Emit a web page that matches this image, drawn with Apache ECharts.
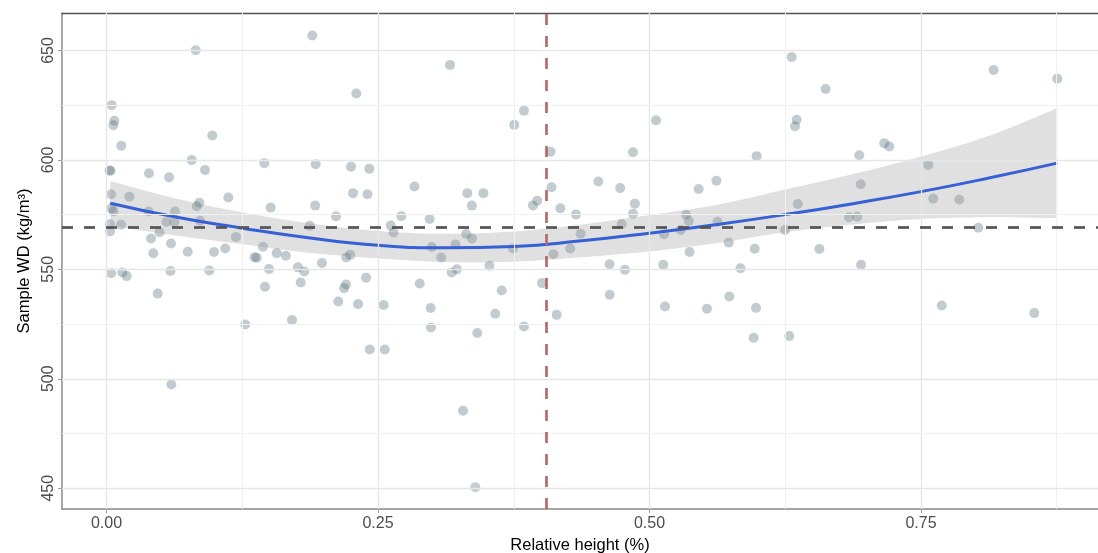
<!DOCTYPE html>
<html><head><meta charset="utf-8">
<script src="https://cdn.jsdelivr.net/npm/echarts@6/dist/echarts.min.js"></script>
<style>html,body{margin:0;padding:0;background:#fff}#c{width:1098px;height:553px}</style>
</head><body><div id="c"></div>
<script>
// ---- data ----
const relHeight = [
0.0028,0.0037,0.0391,0.0576,0.0821,0.0048,0.0072,0.0063,0.0136,0.0974,0.0785,0.0907,0.1453,0.0041,0.0210,0.1122,0.0855,0.0831,0.0046,0.0064,
0.0387,0.0631,0.1512,0.0861,0.0032,0.0134,0.0032,0.0551,0.0624,0.0410,0.0488,0.1192,0.0594,0.0431,0.0748,0.0990,0.1093,0.1441,0.1363,0.1383,
0.1567,0.0043,0.0145,0.0186,0.0589,0.0946,0.1496,0.0471,0.1459,0.1278,0.0597,0.1895,0.3163,0.2300,0.3844,0.3755,0.1926,0.2251,0.2420,0.2836,
0.2270,0.2403,0.1922,0.2113,0.3322,0.3470,0.3364,0.3927,0.3966,0.1872,0.2715,0.2617,0.2643,0.2976,0.3312,0.3365,0.1651,0.2244,0.2207,0.1984,
0.1762,0.1821,0.2995,0.3214,0.3082,0.3526,0.3743,0.3179,0.3227,0.2390,0.2884,0.1788,0.2205,0.2187,0.2134,0.2316,0.2552,0.1708,0.2985,0.2988,
0.3414,0.3580,0.3639,0.4010,0.3844,0.2424,0.2562,0.3283,0.3396,0.6309,0.5060,0.6355,0.6340,0.4089,0.4848,0.5987,0.4098,0.4529,0.4730,0.5453,
0.5616,0.4865,0.4848,0.4179,0.4323,0.4366,0.4744,0.5336,0.5362,0.5626,0.5134,0.5288,0.6248,0.6365,0.4115,0.4270,0.5369,0.5729,0.5969,0.6564,
0.4632,0.4774,0.5126,0.5838,0.4634,0.4145,0.5143,0.5529,0.5735,0.5981,0.5959,0.6287,0.8169,0.8755,0.6622,0.7162,0.7208,0.6932,0.7567,0.6945,
0.7613,0.7853,0.6837,0.6913,0.8028,0.6948,0.7691,0.8543
];
const sampleWD = [
595.2,595.0,593.9,592.1,650.1,625.0,617.9,615.8,606.5,611.1,599.9,595.4,598.5,584.3,583.2,582.8,580.4,578.8,577.9,576.5,
576.4,576.4,578.2,572.2,570.6,570.4,567.3,571.6,571.6,564.1,566.9,564.8,561.8,557.3,558.0,557.9,559.5,560.3,555.5,555.3,
557.4,548.2,548.6,546.9,549.2,549.5,550.1,538.9,542.0,524.8,497.4,656.8,643.4,630.3,622.5,616.0,598.0,596.9,595.9,587.8,
584.8,584.3,579.1,574.2,584.8,584.8,579.1,579.2,581.3,569.9,574.3,570.0,566.8,573.0,566.1,564.1,556.2,556.6,555.4,552.9,
550.9,549.0,560.2,561.3,555.4,551.6,559.5,548.6,550.0,546.2,543.5,544.0,543.1,541.4,535.3,534.1,533.7,526.8,532.3,523.4,
520.9,529.7,540.3,543.7,523.9,513.4,513.4,485.4,450.4,647.0,618.1,618.3,615.4,603.7,603.5,601.7,587.5,590.1,587.1,586.7,
590.5,580.0,575.4,577.9,575.1,566.3,570.7,574.9,572.1,571.7,566.0,568.0,568.0,579.8,556.9,559.5,557.9,562.2,559.4,559.3,
552.3,549.8,552.1,550.5,538.4,529.2,533.0,532.0,537.6,532.4,518.7,519.5,641.1,637.1,632.4,607.6,606.1,602.1,597.7,588.9,
582.3,581.9,573.8,574.0,569.0,552.1,533.5,530.0
];
// smoothed fit with confidence band
const fitX     = [0.0035,0.0625,0.125,0.1875,0.25,0.3125,0.375,0.4375,0.5,0.5625,0.625,0.6875,0.75,0.8125,0.8755];
const fitY     = [580.2,574.0,568.8,564.3,561.0,559.8,560.4,563.0,566.5,570.5,575.0,580.0,585.5,591.7,598.5];
const fitLower = [570.0,565.5,561.5,557.5,555.0,553.3,553.5,555.5,558.2,562.0,567.0,570.5,573.0,573.8,573.4];
const fitUpper = [590.3,582.5,576.0,571.0,567.5,566.2,567.3,570.5,574.8,579.5,586.5,593.5,601.5,611.0,623.6];
const meanWD = 569.3;
const splitHeight = 0.405;
// ticks / grid
const xTicks = [0, 0.25, 0.5, 0.75];
const yTicks = [450, 500, 550, 600, 650];
const xMinor = [0.125, 0.375, 0.625, 0.875];
const yMinor = [475, 525, 575, 625];
const xRange = [-0.041, 0.913];
const yRange = [440.5, 667.1];

const FONT = '"Liberation Sans", Arial, Helvetica, sans-serif';
const chart = echarts.init(document.getElementById('c'), null, {renderer: 'canvas'});

const points = relHeight.map((x, i) => [x, sampleWD[i]]);
const fitPts = fitX.map((x, i) => [x, fitY[i]]);
const bandRows = fitX.map((x, i) => [x, fitLower[i], fitUpper[i]]);

// Catmull-Rom smoothing of pixel points (drawing only)
function smoothPath(pts, steps) {
  const out = [];
  const n = pts.length;
  for (let i = 0; i < n - 1; i++) {
    const p0 = pts[Math.max(i - 1, 0)], p1 = pts[i], p2 = pts[i + 1], p3 = pts[Math.min(i + 2, n - 1)];
    for (let k = 0; k < steps; k++) {
      const t = k / steps, t2 = t * t, t3 = t2 * t;
      const f = j => 0.5 * (2 * p1[j] + (-p0[j] + p2[j]) * t + (2 * p0[j] - 5 * p1[j] + 4 * p2[j] - p3[j]) * t2 + (-p0[j] + 3 * p1[j] - 3 * p2[j] + p3[j]) * t3);
      out.push([f(0), f(1)]);
    }
  }
  out.push(pts[n - 1]);
  return out;
}

const majorStyle = {color: '#e6e6e6', width: 1.3, type: 'solid'};
const minorStyle = {color: '#f1f1f1', width: 1, type: 'solid'};
const gridLines = [].concat(
  xTicks.map(v => ({xAxis: v, lineStyle: majorStyle})),
  xMinor.map(v => ({xAxis: v, lineStyle: minorStyle})),
  yTicks.map(v => ({yAxis: v, lineStyle: majorStyle})),
  yMinor.map(v => ({yAxis: v, lineStyle: minorStyle}))
);

chart.setOption({
  animation: false,
  backgroundColor: '#ffffff',
  grid: {left: 62, right: 0, top: 13, bottom: 44, containLabel: false, outerBoundsMode: 'none'},
  xAxis: [{
    type: 'value', min: xRange[0], max: xRange[1],
    name: 'Relative height (%)', nameLocation: 'middle', nameGap: 27,
    nameTextStyle: {fontFamily: FONT, fontSize: 16.5, color: '#000'},
    axisLine: {show: true, onZero: false, lineStyle: {color: '#888', width: 1.5}},
    axisTick: {show: true, length: 4, lineStyle: {color: '#999'}, customValues: xTicks},
    axisLabel: {customValues: xTicks, formatter: v => Number(v).toFixed(2), fontFamily: FONT, fontSize: 16, color: '#4d4d4d', margin: 7},
    splitLine: {show: false}
  }, {
    type: 'value', position: 'top', min: xRange[0], max: xRange[1],
    axisLine: {show: true, onZero: false, lineStyle: {color: '#555', width: 1.4}},
    axisTick: {show: false}, axisLabel: {show: false}, splitLine: {show: false}
  }],
  yAxis: {
    type: 'value', min: yRange[0], max: yRange[1],
    name: 'Sample WD (kg/m³)', nameLocation: 'middle', nameGap: 26, nameRotate: 90,
    nameTextStyle: {fontFamily: FONT, fontSize: 16.5, color: '#000'},
    axisLine: {show: true, onZero: false, lineStyle: {color: '#888', width: 1.5}},
    axisTick: {show: true, length: 4, lineStyle: {color: '#999'}, customValues: yTicks},
    axisLabel: {customValues: yTicks, rotate: 90, fontFamily: FONT, fontSize: 16, color: '#4d4d4d', margin: 5},
    splitLine: {show: false}
  },
  series: [
    {
      name: 'grid', type: 'line', data: [], z: 0, silent: true,
      markLine: {silent: true, precision: 6, symbol: ['none', 'none'], label: {show: false}, animation: false, data: gridLines}
    },
    {
      name: 'samples', type: 'scatter', data: points, z: 2,
      symbol: 'circle', symbolSize: 10,
      itemStyle: {color: 'rgba(75,105,115,0.42)', borderWidth: 0}
    },
    {
      name: 'band', type: 'custom', data: bandRows, z: 3, silent: true, clip: true,
      encode: {x: 0, y: [1, 2]},
      renderItem: function (params, api) {
        if (params.dataIndex !== 0) return {type: 'group', children: []};
        const up = bandRows.map(r => api.coord([r[0], r[2]]));
        const lo = bandRows.map(r => api.coord([r[0], r[1]]));
        const poly = smoothPath(up, 16).concat(smoothPath(lo, 16).reverse());
        return {type: 'polygon', shape: {points: poly}, style: {fill: 'rgba(153,153,153,0.3)'}};
      }
    },
    {
      name: 'fit', type: 'line', data: fitPts, smooth: true,
      showSymbol: false, symbol: 'none', z: 4,
      lineStyle: {color: '#3560d6', width: 3}
    },
    {
      name: 'refs', type: 'line', data: [], z: 5, silent: true,
      markLine: {
        silent: true, precision: 6, symbol: ['none', 'none'], label: {show: false}, animation: false,
        data: [
          {yAxis: meanWD, lineStyle: {color: '#555555', width: 2.7, type: [11, 11]}},
          {xAxis: splitHeight, lineStyle: {color: '#b86a6a', width: 2.7, type: [11, 11]}}
        ]
      }
    }
  ]
});
</script>
</body></html>
